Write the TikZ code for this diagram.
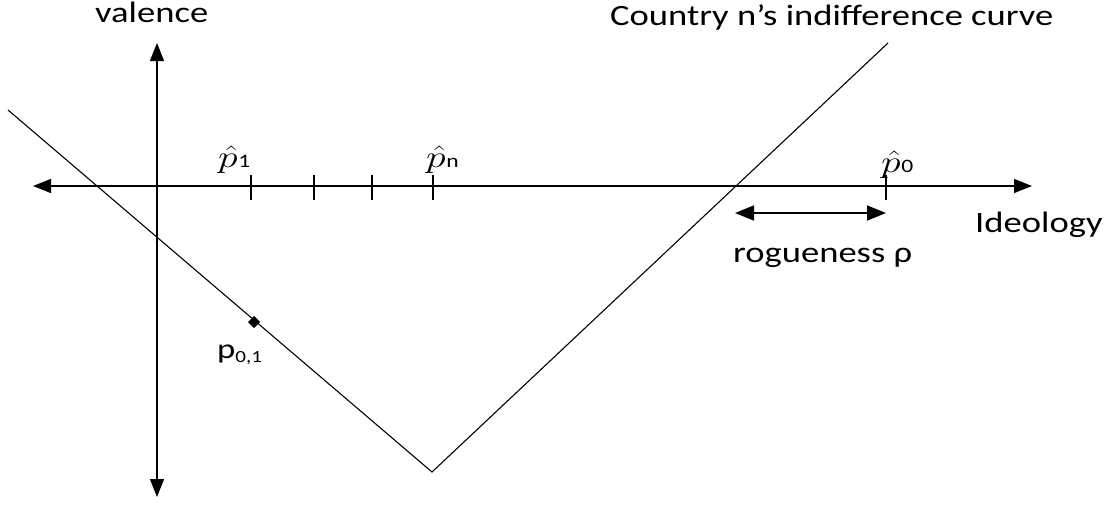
\documentclass[tikz,border=0pt]{standalone}
\usepackage{fontspec}
\setmainfont{Carlito}[FakeStretch=1.24]
\usetikzlibrary{arrows.meta}
\tikzset{
  axis/.style={line width=1.2pt, {Triangle[length=18pt,width=14pt]}-{Triangle[length=18pt,width=14pt]}},
  rogarrow/.style={line width=1.6pt, {Triangle[length=19pt,width=15pt]}-{Triangle[length=19pt,width=15pt]}},
  curve/.style={line width=1.1pt},
  tick/.style={line width=1.3pt},
  lbl/.style={inner sep=0pt, font=\fontsize{29.5}{33}\selectfont},
  mlbl/.style={inner sep=0pt, font=\fontsize{24}{28}\selectfont},
}
\newcommand{\phat}[1]{\scalebox{1.6}[1.25]{\(\hat{p}\)}\kern0.5pt{\fontsize{19}{22}\selectfont #1}}
\begin{document}
\begin{tikzpicture}[x=1pt,y=-1pt]
\useasboundingbox (0,0) rectangle (1115,504);
% axes
\coordinate (hl) at (33,186);
\coordinate (hr) at (1032,186);
\coordinate (vt) at (157,43);
\coordinate (vb) at (157,497);
\draw[axis] (hl) -- (hr);
\draw[axis] (vt) -- (vb);
% indifference curve
\coordinate (c1) at (8,110);
\coordinate (cv) at (432,472);
\coordinate (c2) at (888,43);
\draw[curve] (c1) -- (cv) -- (c2);
% ticks
\foreach \n/\x in {t1/251,t2/314,t3/372,tn/433,t0/886}{
  \coordinate (\n a) at (\x,175);
  \coordinate (\n b) at (\x,200);
  \draw[tick] (\n a) -- (\n b);
}
% point
\node[fill=black, minimum size=8.5pt, inner sep=0pt, rotate=45] (p01) at (254,322) {};
% labels
\node[mlbl, anchor=base west] (lp1) at (218,167) {\phat{1}};
\node[mlbl, anchor=base west] (lpn) at (426,167) {\phat{n}};
\node[mlbl, anchor=base west] (lp0) at (881,172) {\phat{0}};
\node[lbl, anchor=base west] (val) at (95,22) {valence};
\node[lbl, anchor=base west] (cic) at (610,25) {Country n’s indifference curve};
\node[lbl, anchor=base west] (ideo) at (975,232) {Ideology};
\node[lbl, anchor=base west] (rog) at (733,262) {rogueness ρ};
\node[lbl, anchor=base west, font=\fontsize{28}{32}\selectfont] (lp01) at (217,358) {p\raisebox{-0.35ex}{\fontsize{17}{19}\selectfont 0,1}};
% rogueness arrow
\coordinate (ra) at (735,213);
\coordinate (rb) at (886,213);
\draw[rogarrow] (ra) -- (rb);
\end{tikzpicture}
\end{document}
